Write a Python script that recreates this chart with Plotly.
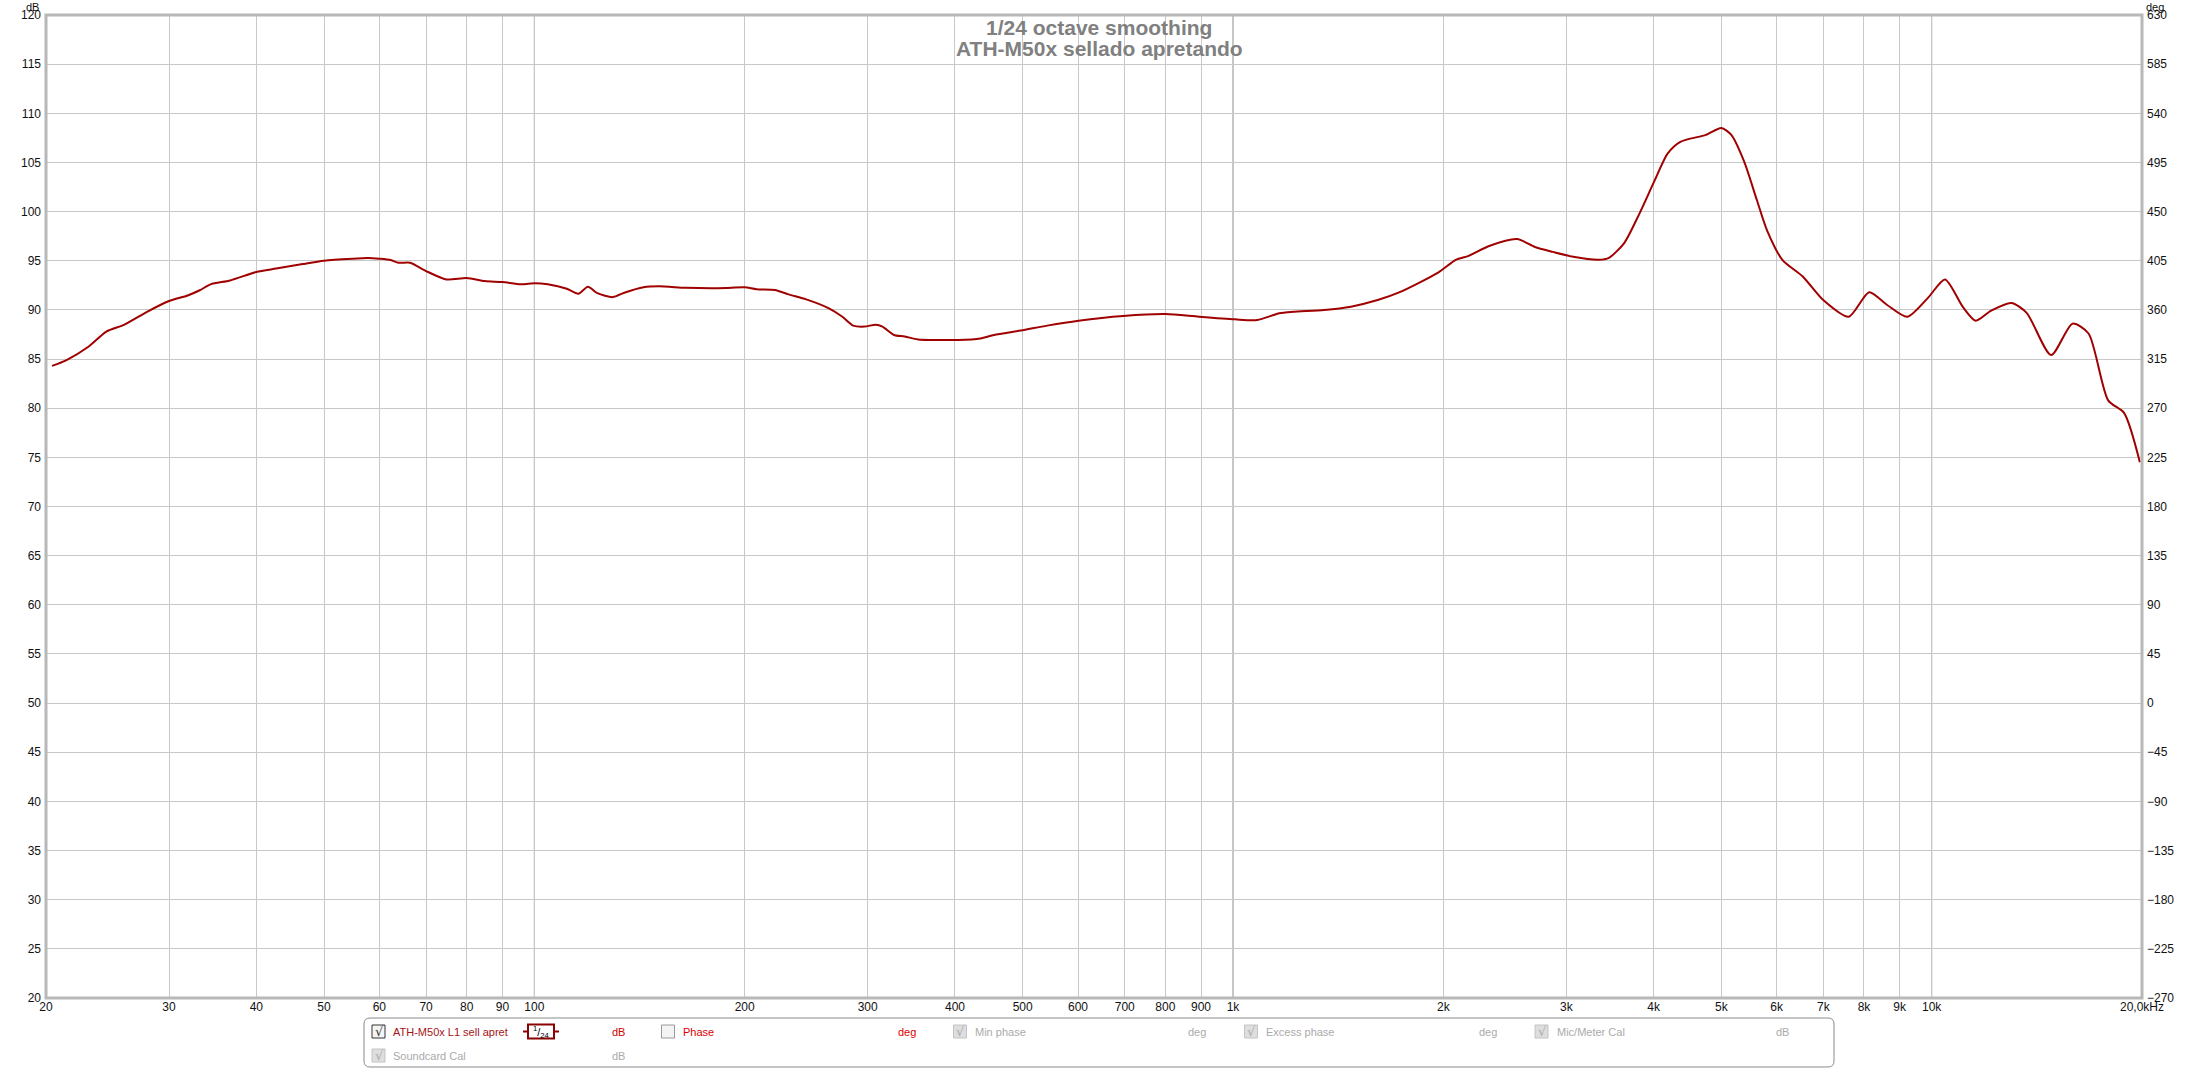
import plotly.graph_objects as go

freq_hz = [20.4, 21.4, 23.0, 24.4, 25.9, 27.9, 30.0, 31.9, 33.2, 34.4, 36.7, 40.0, 42.7, 46.6,
           50.0, 54.9, 57.8, 60.0, 62.3, 63.9, 66.4, 70.0, 74.8, 80.0, 84.9, 90.0, 95.7, 100,
           104.5, 111.3, 115.6, 119.3, 123.1, 129.5, 134.5, 143.3, 150.7, 164.6, 179.8, 188, 200,
           208, 221, 231, 245, 264, 276, 286, 297, 308, 315, 327, 339, 354, 381, 404, 435, 455,
           497, 542, 601, 696, 801, 894, 1006, 1083, 1165, 1218, 1350, 1475, 1611, 1725, 1966,
           2084, 2174, 2326, 2550, 2705, 2870, 3069, 3337, 3452, 3630, 3817, 4015, 4188, 4368,
           4751, 5000, 5167, 5389, 5619, 5812, 6113, 6538, 6995, 7607, 8138, 8635, 9226, 9870,
           10449, 11082, 11561, 12152, 13000, 13675, 14824, 15906, 16770, 17890, 18860, 19860]
spl_db = [84.3, 84.9, 86.25, 87.8, 88.5, 89.8, 90.9, 91.47, 92.0, 92.6, 93.0, 93.85, 94.2, 94.66,
          95.0, 95.2, 95.27, 95.2, 95.07, 94.8, 94.8, 93.95, 93.1, 93.24, 92.93, 92.83, 92.6, 92.7,
          92.6, 92.15, 91.64, 92.36, 91.7, 91.3, 91.75, 92.3, 92.4, 92.25, 92.2, 92.23, 92.3,
          92.1, 92.03, 91.58, 91.07, 90.16, 89.3, 88.4, 88.3, 88.5, 88.3, 87.45, 87.3, 87.0, 86.94,
          86.94, 87.1, 87.45, 87.9, 88.4, 88.9, 89.38, 89.58, 89.3, 89.04, 88.97, 89.65, 89.8,
          89.99, 90.33, 91.0, 91.75, 93.8, 95.1, 95.5, 96.5, 97.2, 96.4, 95.9, 95.4, 95.1, 95.3,
          96.8, 99.8, 103.2, 105.9, 107.1, 107.8, 108.5, 107.8, 105.1, 101.2, 98.1, 95.1, 93.4,
          91.0, 89.3, 91.8, 90.5, 89.3, 91.2, 93.1, 90.3, 88.9, 89.9, 90.7, 89.7, 85.4, 88.6,
          87.6, 80.8, 79.5, 74.5]

x_ticks = [20, 30, 40, 50, 60, 70, 80, 90, 100, 200, 300, 400, 500, 600, 700, 800, 900,
           1000, 2000, 3000, 4000, 5000, 6000, 7000, 8000, 9000, 10000, 20000]
x_tick_text = ["20", "30", "40", "50", "60", "70", "80", "90", "100", "200", "300", "400",
               "500", "600", "700", "800", "900", "1k", "2k", "3k", "4k", "5k", "6k", "7k",
               "8k", "9k", "10k", "20,0kHz"]
decade_lines = [100, 1000, 10000]

title_lines = ["1/24 octave smoothing", "ATH-M50x sellado apretando"]

# legend panel rows: (kind, text, x pixel, colour)
legend_row1 = [
    ("box_on", "", 378.5, "#333333"),
    ("label", "ATH-M50x L1 sell apret", 391, "#a31515"),
    ("smooth", "<sup>1</sup>/<sub>24</sub>", 541, "#8b0000"),
    ("unit", "dB", 618, "#cc0000"),
    ("box_off", "", 668, "#888888"),
    ("label", "Phase", 681, "#dd0000"),
    ("unit", "deg", 907, "#dd0000"),
    ("box_grey", "", 960, "#aaaaaa"),
    ("label", "Min phase", 973, "#aaaaaa"),
    ("unit", "deg", 1197, "#aaaaaa"),
    ("box_grey", "", 1251, "#aaaaaa"),
    ("label", "Excess phase", 1264, "#aaaaaa"),
    ("unit", "deg", 1488, "#aaaaaa"),
    ("box_grey", "", 1541.5, "#aaaaaa"),
    ("label", "Mic/Meter Cal", 1555, "#aaaaaa"),
    ("unit", "dB", 1782, "#aaaaaa"),
]
legend_row2 = [
    ("box_grey", "", 378.5, "#aaaaaa"),
    ("label", "Soundcard Cal", 391, "#aaaaaa"),
    ("unit", "dB", 618, "#aaaaaa"),
]

W, H = 2200, 1069
L, R, T, B = 46, 2142, 15, 998
FONT = "Liberation Sans, Arial, sans-serif"


def px_x(x):
    return (x - L) / (R - L)


def px_y(y):
    return 1 - (y - T) / (B - T)


fig = go.Figure()

fig.add_trace(go.Scatter(
    x=freq_hz, y=spl_db, mode="lines",
    line=dict(color="#a00000", width=2, shape="spline", smoothing=0.7),
    showlegend=False, hoverinfo="x+y",
))
# empty trace so the phase axis on the right gets drawn
fig.add_trace(go.Scatter(x=[freq_hz[0]], y=[None], yaxis="y2", showlegend=False,
                         hoverinfo="skip"))

fig.update_layout(
    width=W, height=H,
    margin=dict(l=L, r=W - R, t=T, b=H - B, pad=0, autoexpand=False),
    paper_bgcolor="#fff", plot_bgcolor="#fff",
    font=dict(family=FONT, size=12, color="#222"),
    xaxis=dict(
        type="log", range=[1.30103, 4.30103],
        tickvals=x_ticks, ticktext=x_tick_text,
        showgrid=True, gridcolor="#c8c8c8", gridwidth=1,
        zeroline=False, showline=False, ticks="",
        tickfont=dict(size=12, color="#111"),
    ),
    yaxis=dict(
        range=[20, 120], tick0=20, dtick=5,
        showgrid=True, gridcolor="#c8c8c8", gridwidth=1,
        zeroline=False, showline=False, ticks="",
        tickfont=dict(size=12, color="#111"), ticklabelstandoff=4,
    ),
    yaxis2=dict(
        range=[-270, 630], tick0=-270, dtick=45, overlaying="y", side="right",
        showgrid=False, zeroline=False, showline=False, ticks="",
        tickfont=dict(size=12, color="#111"), ticklabelstandoff=4,
    ),
)

shapes = []
for f in decade_lines:
    shapes.append(dict(type="line", xref="x", yref="paper", x0=f, x1=f, y0=0, y1=1,
                       line=dict(color="#8c8c8c", width=1), layer="below"))

# grey frame round the plot area
shapes.append(dict(type="rect", xref="paper", yref="paper", x0=0, x1=1, y0=0, y1=1,
                   line=dict(color="#b8b8b8", width=3), layer="above"))

annotations = [
    dict(text="dB", xref="paper", yref="paper", x=px_x(32), y=px_y(7), showarrow=False,
         font=dict(size=11, color="#111"), xanchor="center", yanchor="middle"),
    dict(text="deg", xref="paper", yref="paper", x=px_x(2155), y=px_y(7), showarrow=False,
         font=dict(size=11, color="#111"), xanchor="center", yanchor="middle"),
]
for i, line in enumerate(title_lines):
    annotations.append(dict(
        text="<b>%s</b>" % line, xref="paper", yref="paper",
        x=px_x(1099), y=px_y(27 + 22 * i), showarrow=False,
        xanchor="center", yanchor="middle",
        font=dict(size=21, color="#808080", family=FONT),
    ))

# legend panel
x0p, x1p, y0p, y1p, rr = 364, 1834, 1018, 1067, 6
path = ("M %f,%f L %f,%f Q %f,%f %f,%f L %f,%f Q %f,%f %f,%f L %f,%f Q %f,%f %f,%f "
        "L %f,%f Q %f,%f %f,%f Z") % (
    px_x(x0p + rr), px_y(y0p), px_x(x1p - rr), px_y(y0p), px_x(x1p), px_y(y0p),
    px_x(x1p), px_y(y0p + rr), px_x(x1p), px_y(y1p - rr), px_x(x1p), px_y(y1p),
    px_x(x1p - rr), px_y(y1p), px_x(x0p + rr), px_y(y1p), px_x(x0p), px_y(y1p),
    px_x(x0p), px_y(y1p - rr), px_x(x0p), px_y(y0p + rr), px_x(x0p), px_y(y0p),
    px_x(x0p + rr), px_y(y0p))
shapes.append(dict(type="path", xref="paper", yref="paper", path=path,
                   line=dict(color="#8a8a8a", width=1), fillcolor="#fff", layer="above"))

for row_y, row in [(1031.5, legend_row1), (1055.5, legend_row2)]:
    for kind, text, x, col in row:
        if kind.startswith("box"):
            fill = {"box_on": "#f4f4f4", "box_off": "#f4f4f4", "box_grey": "#dedede"}[kind]
            edge = {"box_on": "#333333", "box_off": "#999999", "box_grey": "#c4c4c4"}[kind]
            shapes.append(dict(type="rect", xref="paper", yref="paper",
                               x0=px_x(x - 6.5), x1=px_x(x + 6.5),
                               y0=px_y(row_y + 6.5), y1=px_y(row_y - 6.5),
                               line=dict(color=edge, width=1), fillcolor=fill, layer="above"))
            if kind != "box_off":
                annotations.append(dict(text="√", xref="paper", yref="paper",
                                        x=px_x(x + 0.5), y=px_y(row_y), showarrow=False,
                                        xanchor="center", yanchor="middle",
                                        font=dict(size=13, color=col, family="DejaVu Sans")))
        elif kind == "smooth":
            shapes.append(dict(type="line", xref="paper", yref="paper",
                               x0=px_x(x - 18), x1=px_x(x + 18), y0=px_y(row_y), y1=px_y(row_y),
                               line=dict(color=col, width=2), layer="above"))
            shapes.append(dict(type="rect", xref="paper", yref="paper",
                               x0=px_x(x - 13), x1=px_x(x + 13),
                               y0=px_y(row_y + 7), y1=px_y(row_y - 7),
                               line=dict(color=col, width=2), fillcolor="#fff", layer="above"))
            annotations.append(dict(text=text, xref="paper", yref="paper",
                                    x=px_x(x), y=px_y(row_y), showarrow=False,
                                    xanchor="center", yanchor="middle",
                                    font=dict(size=11, color="#000")))
        else:
            annotations.append(dict(text=text, xref="paper", yref="paper",
                                    x=px_x(x), y=px_y(row_y), showarrow=False,
                                    xanchor="left" if kind == "label" else "center",
                                    yanchor="middle",
                                    font=dict(size=11, color=col)))

fig.update_layout(shapes=shapes, annotations=annotations)

# the page body has a default 8px margin; drop it so the figure sits at the window corner
fig.write_html("out.html", config={"displayModeBar": False},
               post_script="document.body.style.margin='0';")
